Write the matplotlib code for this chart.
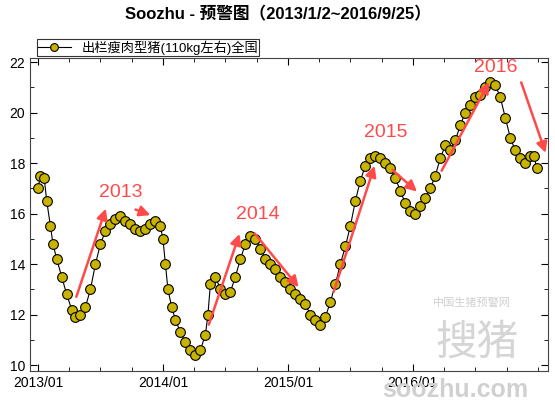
import matplotlib
matplotlib.use("Agg")
import matplotlib.pyplot as plt
from matplotlib.ticker import MultipleLocator

plt.rcParams['font.family'] = ['Liberation Sans', 'Noto Sans CJK SC', 'DejaVu Sans']

years = [2013.00, 2013.02, 2013.05, 2013.07, 2013.10, 2013.12, 2013.15, 2013.19, 2013.23, 2013.27,
         2013.30, 2013.34, 2013.38, 2013.42, 2013.46, 2013.50, 2013.54, 2013.58, 2013.62, 2013.66,
         2013.70, 2013.74, 2013.78, 2013.82, 2013.86, 2013.90, 2013.94, 2013.98, 2014.00, 2014.02,
         2014.04, 2014.07, 2014.10, 2014.14, 2014.18, 2014.22, 2014.26, 2014.30, 2014.34, 2014.36,
         2014.38, 2014.42, 2014.46, 2014.50, 2014.54, 2014.58, 2014.62, 2014.66, 2014.70, 2014.74,
         2014.78, 2014.82, 2014.86, 2014.90, 2014.94, 2014.98, 2015.02, 2015.06, 2015.10, 2015.14,
         2015.18, 2015.22, 2015.26, 2015.30, 2015.34, 2015.38, 2015.42, 2015.46, 2015.50, 2015.54,
         2015.58, 2015.62, 2015.66, 2015.70, 2015.74, 2015.78, 2015.82, 2015.86, 2015.90, 2015.94,
         2015.98, 2016.02, 2016.06, 2016.10, 2016.14, 2016.18, 2016.22, 2016.26, 2016.30, 2016.34,
         2016.38, 2016.42, 2016.46, 2016.50, 2016.54, 2016.58, 2016.62, 2016.66, 2016.70, 2016.74,
         2016.78, 2016.82, 2016.86, 2016.90, 2016.94, 2016.97, 2016.99]
prices = [17.0, 17.5, 17.4, 16.5, 15.5, 14.8, 14.2, 13.5, 12.8, 12.2,
          11.9, 12.0, 12.3, 13.0, 14.0, 14.8, 15.3, 15.6, 15.8, 15.9,
          15.7, 15.6, 15.4, 15.3, 15.4, 15.6, 15.7, 15.5, 15.0, 14.0,
          13.0, 12.3, 11.8, 11.3, 10.9, 10.6, 10.4, 10.6, 11.2, 12.0,
          13.2, 13.5, 13.0, 12.8, 12.9, 13.5, 14.2, 14.8, 15.1, 15.0,
          14.6, 14.2, 14.0, 13.8, 13.5, 13.3, 13.0, 12.8, 12.6, 12.4,
          12.0, 11.8, 11.6, 11.9, 12.5, 13.2, 14.0, 14.7, 15.5, 16.5,
          17.3, 17.9, 18.2, 18.3, 18.2, 18.0, 17.8, 17.4, 16.9, 16.4,
          16.1, 16.0, 16.3, 16.6, 17.0, 17.5, 18.2, 18.7, 18.5, 18.9,
          19.5, 20.0, 20.3, 20.6, 20.7, 21.0, 21.2, 21.1, 20.6, 19.8,
          19.0, 18.5, 18.2, 18.0, 18.3, 18.3, 17.8]
years = years[:len(prices)]
tick_pos = [2013, 2014, 2015, 2016]
tick_labels = ['2013/01', '2014/01', '2015/01', '2016/01']
series_name = '出栏瘦肉型猪(110kg左右)全国'
title = 'Soozhu - 预警图（2013/1/2~2016/9/25）'
ann_labels = ['2013', '2014', '2015', '2016']
ann_pos = [(2013.66, 16.85), (2014.76, 15.95), (2015.78, 19.2), (2016.66, 21.8)]
arrows = [((2013.30, 12.6), (2013.55, 16.3)), ((2013.76, 16.2), (2013.92, 15.9)),
          ((2014.36, 11.5), (2014.62, 15.3)), ((2014.72, 15.3), (2015.10, 13.0)),
          ((2015.36, 12.8), (2015.70, 18.0)), ((2015.82, 17.8), (2016.05, 16.8)),
          ((2016.22, 17.6), (2016.62, 21.3)), ((2016.86, 21.3), (2017.07, 18.3))]

fig = plt.figure(figsize=(5.55, 4.03), dpi=100)
ax = fig.add_axes([0.054, 0.079, 0.933, 0.777])
fig.text(0.5, 0.965, title, ha='center', va='center', fontsize=12, fontweight='bold')

# watermark
fig.text(0.82, 0.015, 'soozhu.com', fontsize=18, fontweight='bold', color='#d0d0d0', ha='center', zorder=0)
fig.text(0.86, 0.12, '搜猪', fontsize=30, color='#d5d5d5', ha='center', zorder=0)
fig.text(0.85, 0.24, '中国生猪预警网', fontsize=8, color='#d0d0d0', ha='center')

line, = ax.plot(years, prices, color='black', lw=0.8, marker='o', ms=7,
                mfc='#c8b400', mec='black', mew=0.8, label=series_name)

for (s, e) in arrows:
    ax.annotate('', xy=e, xytext=s,
                arrowprops=dict(arrowstyle='-|>', color='#ff4a4a', lw=1.8, mutation_scale=16))
for t, p in zip(ann_labels, ann_pos):
    ax.text(p[0], p[1], t, color='#ff4a4a', fontsize=14, ha='center', va='center')

ax.set_xlim(2012.936, 2017.08)
ax.set_ylim(9.76, 22.16)
ax.set_xticks(tick_pos)
ax.set_xticklabels(tick_labels, fontsize=10)
ax.xaxis.set_minor_locator(MultipleLocator(0.25))
ax.yaxis.set_major_locator(MultipleLocator(2))
ax.yaxis.set_minor_locator(MultipleLocator(1))
ax.tick_params(axis='both', which='both', top=True, right=True, direction='in', labelsize=10)
ax.tick_params(which='major', length=5)
ax.tick_params(which='minor', length=3)
for s in ax.spines.values():
    s.set_color('#444444')

leg = fig.legend(handles=[line], loc='upper left', bbox_to_anchor=(0.054, 0.92),
                 fontsize=9.5, frameon=True, fancybox=False, edgecolor='black',
                 borderpad=0.1, handlelength=2.5, markerscale=0.8)
leg.get_frame().set_linewidth(0.8)

fig.savefig('out.png', dpi=100)
